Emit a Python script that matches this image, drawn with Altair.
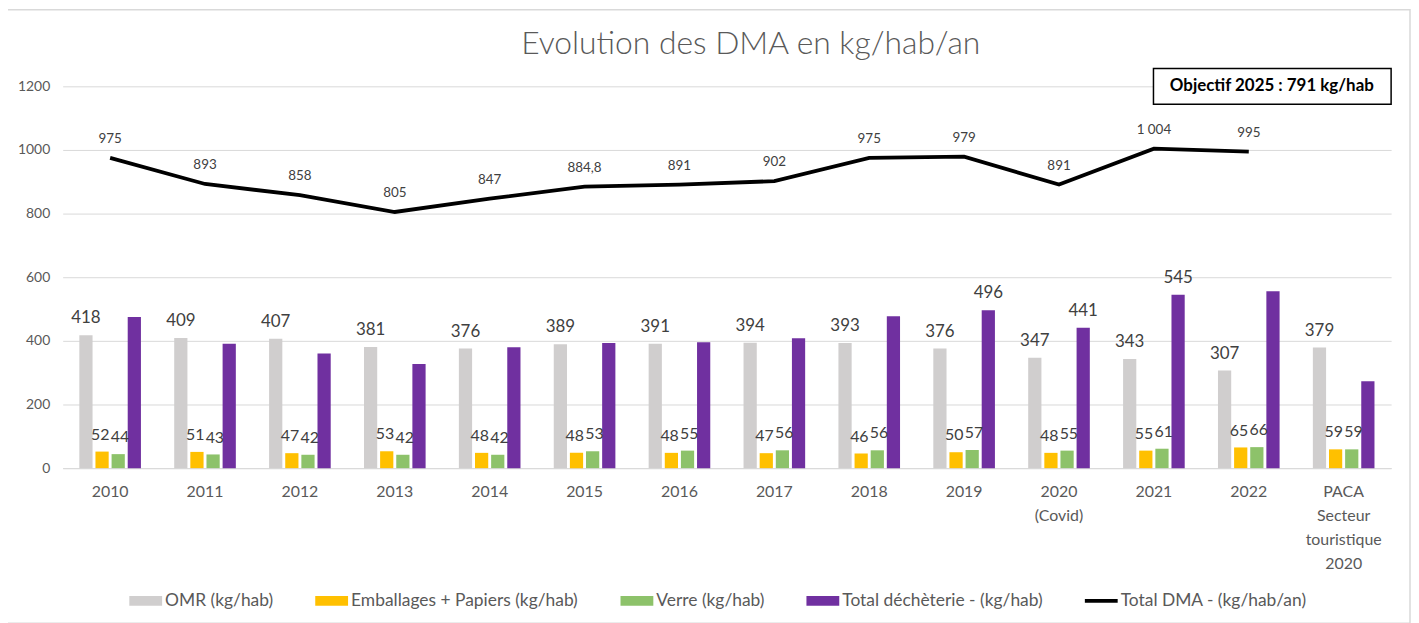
import altair as alt
import pandas as pd

categories = ["2010", "2011", "2012", "2013", "2014", "2015", "2016", "2017",
              "2018", "2019", "2020\n(Covid)", "2021", "2022",
              "PACA\nSecteur\ntouristique\n2020"]
series_names = ["OMR (kg/hab)", "Emballages + Papiers (kg/hab)", "Verre (kg/hab)",
                "Total déchèterie - (kg/hab)", "Total DMA - (kg/hab/an)"]
omr = [418, 409, 407, 381, 376, 389, 391, 394, 393, 376, 347, 343, 307, 379]
emballages = [52, 51, 47, 53, 48, 48, 48, 47, 46, 50, 48, 55, 65, 59]
verre = [44, 43, 42, 42, 42, 53, 55, 56, 56, 57, 55, 61, 66, 59]
decheterie = [475, 391, 360, 327, 380, 393, 396, 408, 477, 496, 441, 545, 556, 273]
decheterie_labelled = [False] * 9 + [True, True, True, False, False]
total_dma = [975, 893, 858, 805, 847, 884.8, 891, 902, 975, 979, 891, 1004, 995, None]
colors = ["#D0CECE", "#FFC000", "#8DC26A", "#7030A0", "#000000"]
objectif_text = "Objectif  2025 : 791 kg/hab"
title_text = "Evolution des DMA en kg/hab/an"

FONT = "Lato"
GREY_TXT = "#595959"
LABEL_TXT = "#404040"


def fr(v):
    if float(v).is_integer():
        return f"{int(v):,}".replace(",", " ")
    return str(v).replace(".", ",")


rows = []
for i, c in enumerate(categories):
    for s, vals in zip(series_names[:4], [omr, emballages, verre, decheterie]):
        show = True
        if s == series_names[3]:
            show = decheterie_labelled[i]
        rows.append({"cat": c, "series": s, "value": vals[i],
                     "label": str(vals[i]) if show else ""})
bars_df = pd.DataFrame(rows)

line_df = pd.DataFrame({"cat": categories, "dma": total_dma})
line_df = line_df.dropna()
line_df["label"] = [fr(v) for v in line_df["dma"]]

x_scale = alt.Scale(domain=categories, paddingInner=0.32, paddingOuter=0.16)
y_scale = alt.Scale(domain=[0, 1200])

rect_path = "M-1,-0.3H1V0.3H-1Z"
line_path = "M-1,-0.11H1V0.11H-1Z"

legend = alt.Legend(
    title=None, orient="none", legendX=67, legendY=501, direction="horizontal",
    symbolType={"expr": f"datum.value === '{series_names[4]}' ? '{line_path}' : '{rect_path}'"},
    symbolSize=1089, labelFont=FONT, labelFontSize=17.5,
    labelColor=GREY_TXT, labelLimit=400, columnPadding=42, labelOffset=3,
    symbolStrokeWidth=0,
)

base_bars = alt.Chart(bars_df)

bars = base_bars.mark_bar().encode(
    x=alt.X("cat:N", scale=x_scale, sort=categories, title=None,
            axis=alt.Axis(labelExpr="split(datum.label, '\\n')", labelAngle=0,
                          ticks=False, domainColor="#D9D9D9", labelFont=FONT,
                          labelFontSize=16, labelColor=GREY_TXT, labelPadding=16,
                          labelLineHeight=24, labelBaseline="top")),
    xOffset=alt.XOffset("series:N", sort=series_names[:4],
                        scale=alt.Scale(domain=series_names[:4], paddingInner=0.18,
                                        paddingOuter=0.09)),
    y=alt.Y("value:Q", scale=y_scale, title=None,
            axis=alt.Axis(values=[0, 200, 400, 600, 800, 1000, 1200], format="d",
                          domain=False, ticks=False, gridColor="#D9D9D9",
                          labelFont=FONT, labelFontSize=14, labelColor=GREY_TXT,
                          labelPadding=13)),
    color=alt.Color("series:N", scale=alt.Scale(domain=series_names, range=colors),
                    sort=series_names, legend=legend),
)


def bar_labels(series_list, size, dx):
    flt = " || ".join(f"datum.series === '{s}'" for s in series_list)
    return base_bars.transform_filter(f"datum.label != '' && ({flt})").mark_text(
        font=FONT, fontSize=size, color=LABEL_TXT, baseline="alphabetic", dy=-12, dx=dx
    ).encode(
        x=alt.X("cat:N", scale=x_scale, sort=categories),
        xOffset=alt.XOffset("series:N", sort=series_names[:4]),
        y=alt.Y("value:Q", scale=y_scale),
        text="label:N",
    )


big_text = bar_labels([series_names[0], series_names[3]], 17, 0)
emb_text = bar_labels([series_names[1]], 16, -1.8)
verre_text = bar_labels([series_names[2]], 16, 1.8)

base_line = alt.Chart(line_df)
line = base_line.mark_line(color="black", strokeWidth=3.8).encode(
    x=alt.X("cat:N", scale=x_scale, sort=categories),
    y=alt.Y("dma:Q", scale=y_scale),
)
line_text = base_line.mark_text(
    font=FONT, fontSize=13.5, color=LABEL_TXT, baseline="alphabetic", dy=-15
).encode(
    x=alt.X("cat:N", scale=x_scale, sort=categories),
    y=alt.Y("dma:Q", scale=y_scale),
    text="label:N",
)

one = alt.Data(values=[{"t": objectif_text}])
border = alt.Chart(one).mark_rect(fill=None, stroke="#D9D9D9", strokeWidth=1.5).encode(
    x=alt.value(-56), x2=alt.value(1355), y=alt.value(-77), y2=alt.value(540)
)
box = alt.Chart(one).mark_rect(fill="white", stroke="black", strokeWidth=1.5).encode(
    x=alt.value(1097), x2=alt.value(1336), y=alt.value(-18), y2=alt.value(18)
)
box_text = alt.Chart(one).mark_text(
    font=FONT, fontSize=17, fontWeight="bold", color="black"
).encode(x=alt.value(1216), y=alt.value(0), text="t:N")

chart = alt.layer(border, bars, big_text, emb_text, verre_text, line, line_text,
                  box, box_text).properties(
    width=1336, height=384,
    title=alt.TitleParams(title_text, font=FONT, fontSize=32, fontWeight=300,
                          color=GREY_TXT, anchor="middle", dx=24, offset=-52),
    autosize=alt.AutoSizeParams(type="none"),
    padding={"left": 55, "top": 77, "right": 20, "bottom": 154},
).configure_view(stroke=None)

chart.save("out.html", embed_options={"renderer": "svg", "actions": False})
